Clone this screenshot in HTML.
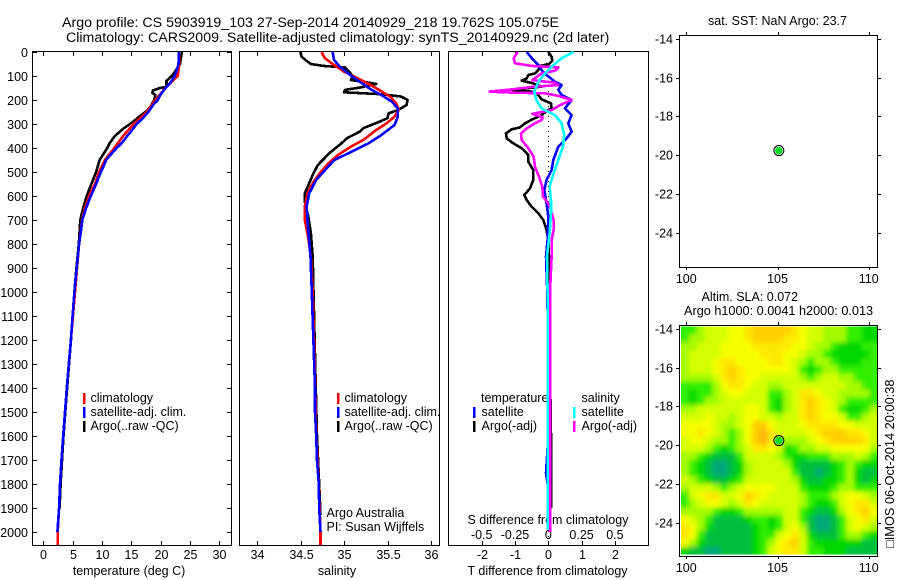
<!DOCTYPE html>
<html lang="en">
<head>
<meta charset="utf-8">
<title>Argo profile CS 5903919_103</title>
<style>
html,body{margin:0;padding:0;background:#fff;}
svg{display:block;font-family:"Liberation Sans",sans-serif;fill:#000;}
text{font-size:12.5px;}
.frame{fill:none;stroke:#000;stroke-width:1;shape-rendering:crispEdges;}
.tick{stroke:#000;stroke-width:1;shape-rendering:crispEdges;}
.line{fill:none;stroke-width:2.6;shape-rendering:crispEdges;stroke-linejoin:round;}
.key{stroke-width:2.5;shape-rendering:crispEdges;}
</style>
</head>
<body>
<svg id="chart" xmlns="http://www.w3.org/2000/svg" width="900" height="580" viewBox="0 0 900 580">
  <rect x="0" y="0" width="900" height="580" fill="#fff"/>
  <defs>
    <clipPath id="mapClip"><rect x="681" y="326.5" width="196.5" height="228"/></clipPath>
    <filter id="soft" x="-10%" y="-10%" width="120%" height="120%"><feGaussianBlur stdDeviation="2.3"/></filter>
  </defs>

  <text x="62" y="27" style="font-size:14.2px">Argo profile: CS 5903919_103 27-Sep-2014 20140929_218 19.762S 105.075E</text>
  <text x="66" y="42" style="font-size:14.2px">Climatology: CARS2009. Satellite-adjusted climatology: synTS_20140929.nc (2d later)</text>

  <g id="panelT">
    <rect class="frame" x="32.5" y="51.5" width="199" height="494"/>
    <text x="129" y="575" text-anchor="middle">temperature (deg C)</text>
    <line class="key" x1="84" x2="84" y1="393" y2="404" stroke="#f00"/>
    <line class="key" x1="84" x2="84" y1="407" y2="418" stroke="#00f"/>
    <line class="key" x1="84" x2="84" y1="421" y2="432" stroke="#000"/>
    <text x="90.5" y="402">climatology</text>
    <text x="90.5" y="416">satellite-adj. clim.</text>
    <text x="90.5" y="430">Argo(..raw -QC)</text>
  </g>

  <g id="panelS">
    <rect class="frame" x="239.5" y="51.5" width="200" height="494"/>
    <text x="337" y="575" text-anchor="middle">salinity</text>
    <line class="key" x1="338" x2="338" y1="393" y2="404" stroke="#f00"/>
    <line class="key" x1="338" x2="338" y1="407" y2="418" stroke="#00f"/>
    <line class="key" x1="338" x2="338" y1="421" y2="432" stroke="#000"/>
    <text x="344.5" y="402">climatology</text>
    <text x="344.5" y="416">satellite-adj. clim.</text>
    <text x="344.5" y="430">Argo(..raw -QC)</text>
    <text x="326.5" y="517">Argo Australia</text>
    <text x="326.5" y="531">PI: Susan Wijffels</text>
  </g>

  <g id="panelD">
    <rect class="frame" x="448.5" y="51.5" width="200" height="494"/>
    <text x="467.5" y="575">T difference from climatology</text>
    <text x="467.5" y="524">S difference from climatology</text>
    <text x="481" y="402">temperature</text>
    <text x="481.5" y="416">satellite</text>
    <text x="481.5" y="430">Argo(-adj)</text>
    <text x="581.5" y="402">salinity</text>
    <text x="581.5" y="416">satellite</text>
    <text x="581.5" y="430">Argo(-adj)</text>
  </g>

  <g id="mapTop">
    <text x="708" y="25" style="font-size:12.5px">sat. SST: NaN Argo: 23.7</text>
    <rect class="frame" x="679.5" y="35.5" width="198" height="232"/>
  </g>

  <g id="mapBottom">
    <text x="701.5" y="301" style="font-size:12.5px">Altim. SLA: 0.072</text>
    <text x="684" y="315" style="font-size:12.7px">Argo h1000: 0.0041 h2000: 0.013</text>
  </g>

  <text transform="translate(894 548) rotate(-90)" style="font-size:12.8px">□IMOS 06-Oct-2014 20:00:38</text>
</svg>

<script>
/* axis tick values */
const depthTicks = [0,100,200,300,400,500,600,700,800,900,1000,1100,1200,1300,1400,1500,1600,1700,1800,1900,2000];
const tempTicks = [0,5,10,15,20,25,30];
const salTicks = [34,34.5,35,35.5,36];
const tDiffTicks = [-2,-1,0,1,2];
const sDiffTicks = [-0.5,-0.25,0,0.25,0.5];
const lonTicks = [100,105,110];
const latTicks = [-14,-16,-18,-20,-22,-24];

/* temperature profiles */
const tempClimDepth = [0,50,100,150,200,250,300,350,400,450,500,550,600,650,700,800,1000,1200,1400,1500,1600,1700,1800,1900,2000,2054];
const tempClimValue = [23.1,23.2,22.9,20.8,19.1,17.6,15.4,13.6,12.1,10.5,9.5,8.8,7.8,7.1,6.6,6.1,5.4,4.7,4,3.7,3.4,3.1,2.85,2.7,2.45,2.45];
const tempSatDepth = [0,50,80,100,130,150,180,200,220,250,280,300,330,350,380,400,430,450,480,500,550,600,650,700,750,800,900,1000,1100,1200,1300,1400,1500,1600,1700,1800,1900,2000];
const tempSatValue = [23.1,23.05,22.7,22.4,21.6,20.85,19.9,19.5,18.75,17.9,16.8,15.9,15,14.3,13.35,12.5,11.4,10.7,10.2,9.8,9,8.1,7.3,6.65,6.4,6.1,5.7,5.3,5,4.7,4.35,4,3.7,3.4,3.1,2.85,2.7,2.4];
const tempArgoDepth = [0,50,80,100,120,145,150,160,170,180,200,230,250,270,285,300,320,350,380,400,450,500,550,600,650,700,800,900,1000,1200,1400,1600,1800,1900];
const tempArgoValue = [23.6,23.3,22.5,21.9,21,21,19.9,18.7,18.6,19.1,18.9,18.2,17.4,16.3,15.6,14.8,13.6,12.2,11.3,10.9,9.6,9,8.2,7.4,6.8,6.3,6.05,5.65,5.3,4.72,4.05,3.45,2.95,2.78];

/* salinity profiles */
const salClimDepth = [0,26,50,82,117,151,186,214,242,269,297,325,367,394,429,464,506,547,589,644,700,756,853,1000,1400,1600,1800,2000,2054];
const salClimValue = [34.74,34.78,34.87,35,35.2,35.37,35.53,35.6,35.63,35.58,35.49,35.37,35.22,35.08,34.93,34.82,34.72,34.64,34.58,34.55,34.55,34.58,34.62,34.64,34.67,34.68,34.71,34.73,34.73];
const salSatDepth = [0,33,61,96,124,158,179,207,235,269,304,346,381,422,450,485,533,589,644,728,853,1000,1400,1500,1600,1700,1800,1900,2000];
const salSatValue = [34.87,34.885,34.95,35.07,35.18,35.32,35.43,35.55,35.62,35.62,35.58,35.43,35.28,35.05,34.89,34.8,34.68,34.6,34.57,34.585,34.615,34.63,34.667,34.667,34.68,34.69,34.71,34.715,34.73];
const salArgoDepth = [0,19,36,50,58,64,78,100,117,124,133,147,158,168,176,186,200,221,242,256,276,290,318,332,360,381,422,471,505,547,589,624,686,756,853,1000,1400,1600,1800,1930];
const salArgoValue = [34.5,34.51,34.565,34.62,34.76,35.01,35.05,35.1,35.08,35.22,35.37,35.2,35.01,35,35.43,35.66,35.73,35.72,35.62,35.51,35.5,35.41,35.22,35.18,35.03,34.97,34.83,34.7,34.65,34.6,34.55,34.55,34.59,34.62,34.64,34.65,34.676,34.69,34.715,34.73];

/* difference profiles */
const tDiffArgoDepth = [0,19,36,50,58,75,89,96,110,119,131,144,158,165,179,197,214,235,246,263,281,297,314,322,339,360,381,401,429,457,492,533,568,596,617,644,672,700,742,783,853,1000,1200,1400,1600,1900];
const tDiffArgoValue = [0,0.1,0.12,0.02,-0.25,-0.3,-0.4,-0.6,-0.65,-0.8,-0.45,-0.2,-1.1,-0.5,-0.3,-0.2,0.08,0.1,-0.05,-0.2,-0.48,-0.7,-0.85,-1.1,-1.27,-1.25,-1.05,-0.8,-0.6,-0.6,-0.45,-0.45,-0.55,-0.72,-0.65,-0.5,-0.3,-0.15,-0.05,0,0.02,0.03,0.05,0.06,0.08,0.08];
const tDiffSatDepth = [0,33,54,75,96,124,138,158,179,200,235,263,297,332,360,394,450,492,533,575,631,686,783,853,1000,1200,1650,1754,1800,1960];
const tDiffSatValue = [-0.65,-0.45,-0.3,-0.2,-0.05,0.2,0.4,0.3,0.4,0.7,0.5,0.7,0.6,0.7,0.55,0.3,0.15,0.1,-0.05,-0.12,-0.05,0,-0.02,-0.07,-0.03,-0.01,-0.02,-0.07,-0.02,-0.01];
const sDiffArgoDepth = [0,26,47,58,64,78,89,117,128,138,144,156,165,169,172,183,200,221,242,258,272,283,297,318,339,367,401,436,478,519,561,603,631,658,700,742,783,853,1000,2000];
const sDiffArgoValue = [-0.23,-0.26,-0.25,-0.125,0.075,0.05,-0.05,-0.12,0.05,0.075,-0.1,-0.275,-0.44,-0.275,-0.025,0.075,0.175,0.09,0.025,-0.12,-0.04,-0.05,-0.1,-0.16,-0.205,-0.2,-0.15,-0.11,-0.1,-0.07,-0.045,-0.04,0,0.02,0.04,0.04,0.025,0.025,0.0125,0.0125];
const sDiffSatDepth = [0,26,54,89,124,165,200,235,263,297,346,394,450,506,561,617,672,756,853,1000,1990];
const sDiffSatValue = [0.19,0.1,0.04,-0.025,-0.075,-0.105,-0.09,-0.05,0.05,0.1,0.12,0.11,0.075,0.04,0.01,0.02,0.02,0.01,-0.01,-0.005,-0.005];

/* argo float position */
const floatLon = 105.075;
const floatLat = -19.762;

/* SLA map colour levels, one string per row from north to south */
const slaLevels = [
"3345556678888876554443322",
"3445556678888776554443322",
"4455566667777766544322233",
"4555566666777665443222223",
"4555677666677654344322233",
"4555678766666653234433333",
"4444578766555554345544333",
"3333467765544555555554433",
"3233456655533457765544443",
"3234455555532457876543333",
"4455555566532457876532234",
"5556554566554557876653345",
"6666544568865556777766555",
"6676543468975555678887765",
"5665443468975444567888875",
"5554323457765234455666664",
"4432111355554322333444543",
"4321001245555421111234322",
"4321001245555531101234211",
"5432112355555542112234212",
"4555434566665553222344333",
"3567755687655554333456654",
"3456654576555554322356775",
"4444322344444553211246786",
"6543111123323553100135675",
"7642111112323564100135654",
"7631111112335675211134432",
"6421111112346785322222211",
"2110011112356775332221111"
];
const slaColors = ["#00a878","#00bf3c","#00d800","#33ee00","#a4fb00","#d4ff00","#f6ff00","#ffe800","#ffd000","#ffb408"];
const gridLonStart = 99.71;
const gridLonStep = 0.431;
const gridLatStart = -13.86;
const gridLatStep = 0.407;

/* axis functions */
function yDepth(d){ return 52 + d * 0.24; }
function xTemp(t){ return 43.3 + t * 5.867; }
function xSal(s){ return 257 + (s - 34) * 87; }
function xTDiff(v){ return 548.3 + v * 33.3; }
function xSDiff(v){ return 548.3 + v * 133.2; }
function xLon(l){ return 686.3 + (l - 100) * 18.24; }
function yLatTop(l){ return 39 + (-14 - l) * 19.36; }
function yLatBottom(l){ return 329 + (-14 - l) * 19.36; }

const NS = 'http://www.w3.org/2000/svg';
function svgEl(parent, tag, attrs){
  const el = document.createElementNS(NS, tag);
  for (const k in attrs) el.setAttribute(k, attrs[k]);
  parent.appendChild(el);
  return el;
}
function fmt(v){ return String(v); }

function tickLine(parent, x1, y1, x2, y2, name){
  const el = svgEl(parent, 'line', {class:'tick', x1:x1, y1:y1, x2:x2, y2:y2});
  
  
  return el;
}
function tickText(parent, x, y, anchor, str, name){
  const el = svgEl(parent, 'text', {x:x, y:y, 'text-anchor':anchor});
  el.textContent = str;
  
  
  return el;
}
function profile(parent, depths, values, xf, color, name){
  const pts = depths.map(function(d, i){ return xf(values[i]).toFixed(1) + ',' + yDepth(d).toFixed(1); }).join(' ');
  const el = svgEl(parent, 'polyline', {class:'line', points:pts, stroke:color});
  
  
  return el;
}

const panelT = document.getElementById('panelT');
const panelS = document.getElementById('panelS');
const panelD = document.getElementById('panelD');
const mapTop = document.getElementById('mapTop');
const mapBottom = document.getElementById('mapBottom');

/* temperature panel */
depthTicks.forEach(function(d){
  const y = Math.round(yDepth(d)) + 0.5;
  tickLine(panelT, 33, y, 37, y, 'depth-tick-left-' + d);
  tickLine(panelT, 227, y, 231, y, 'depth-tick-right-' + d);
  tickText(panelT, 28, y + 4.5, 'end', fmt(d), 'depth-tick-label-' + d);
});
tempTicks.forEach(function(t){
  const x = Math.round(xTemp(t)) + 0.5;
  tickLine(panelT, x, 52, x, 56, 'temperature-tick-top-' + t);
  tickLine(panelT, x, 541, x, 545, 'temperature-tick-bottom-' + t);
  tickText(panelT, x, 559, 'middle', fmt(t), 'temperature-tick-label-' + t);
});
profile(panelT, tempArgoDepth, tempArgoValue, xTemp, '#000', 'temperature-argo-line');
profile(panelT, tempClimDepth, tempClimValue, xTemp, '#f00', 'temperature-climatology-line');
profile(panelT, tempSatDepth, tempSatValue, xTemp, '#00f', 'temperature-satellite-line');

/* salinity panel */
salTicks.forEach(function(s){
  const x = Math.round(xSal(s)) + 0.5;
  tickLine(panelS, x, 52, x, 56, 'salinity-tick-top-' + s);
  tickLine(panelS, x, 541, x, 545, 'salinity-tick-bottom-' + s);
  tickText(panelS, x, 559, 'middle', fmt(s), 'salinity-tick-label-' + s);
});
profile(panelS, salArgoDepth, salArgoValue, xSal, '#000', 'salinity-argo-line');
profile(panelS, salClimDepth, salClimValue, xSal, '#f00', 'salinity-climatology-line');
profile(panelS, salSatDepth, salSatValue, xSal, '#00f', 'salinity-satellite-line');

/* difference panel */
tDiffTicks.forEach(function(v){
  const x = Math.round(xTDiff(v)) + 0.5;
  tickLine(panelD, x, 52, x, 56, 'd-tick-top-' + v);
  tickLine(panelD, x, 541, x, 545, 'd-tick-bottom-' + v);
  tickText(panelD, x, 559, 'middle', fmt(v), 't-difference-tick-label-' + v);
});
sDiffTicks.forEach(function(v){
  tickText(panelD, xSDiff(v), 539, 'middle', fmt(v), 's-difference-tick-label-' + v);
});
const zeroLine = svgEl(panelD, 'line', {x1:548.5, x2:548.5, y1:yDepth(100), y2:yDepth(2054), stroke:'#000', 'stroke-width':1, 'stroke-dasharray':'1 4'});


profile(panelD, tDiffArgoDepth, tDiffArgoValue, xTDiff, '#000', 'temperature-difference-argo-line');
profile(panelD, tDiffSatDepth, tDiffSatValue, xTDiff, '#00f', 'temperature-difference-satellite-line');
profile(panelD, sDiffArgoDepth, sDiffArgoValue, xSDiff, '#f0f', 'salinity-difference-argo-line');
profile(panelD, sDiffSatDepth, sDiffSatValue, xSDiff, '#0ff', 'salinity-difference-satellite-line');

const keyDefs = [[474,407,418,'#00f','key-temperature-satellite'],[474,421,432,'#000','key-temperature-argo'],[574,407,418,'#0ff','key-salinity-satellite'],[574,421,432,'#f0f','key-salinity-argo']];
keyDefs.forEach(function(k){
  const el = svgEl(panelD, 'line', {class:'key', x1:k[0], x2:k[0], y1:k[1], y2:k[2], stroke:k[3]});
  
  
});

/* SLA heatmap */
const heatClip = svgEl(mapBottom, 'g', {'clip-path':'url(#mapClip)'});


const heatGroup = svgEl(heatClip, 'g', {filter:'url(#soft)'});


const nRows = slaLevels.length;
slaLevels.forEach(function(row, r){
  const nCols = row.length;
  for (let c = 0; c < nCols; c++){
    let x0 = xLon(gridLonStart + c * gridLonStep);
    let x1 = xLon(gridLonStart + (c + 1) * gridLonStep) + 0.4;
    let y0 = yLatBottom(gridLatStart - r * gridLatStep);
    let y1 = yLatBottom(gridLatStart - (r + 1) * gridLatStep) + 0.4;
    if (c === 0) x0 -= 10;
    if (c === nCols - 1) x1 += 10;
    if (r === 0) y0 -= 10;
    if (r === nRows - 1) y1 += 10;
    const cell = svgEl(heatGroup, 'rect', {x:x0.toFixed(2), y:y0.toFixed(2), width:(x1 - x0).toFixed(2), height:(y1 - y0).toFixed(2), fill:slaColors[Number(row[c])]});
    
    
  }
});
const slaFrame = svgEl(mapBottom, 'rect', {class:'frame', x:679.5, y:325.5, width:198, height:231});



/* map axes */
function mapAxes(parent, yLat, top, bottom, prefix){
  lonTicks.forEach(function(l){
    const x = Math.round(xLon(l)) + 0.5;
    tickLine(parent, x, top - 3, x, top, prefix + '-lon-tick-top-' + l);
    tickLine(parent, x, bottom, x, bottom + 3, prefix + '-lon-tick-bottom-' + l);
    tickText(parent, xLon(l), bottom + 16, 'middle', fmt(l), prefix + '-lon-label-' + l);
  });
  latTicks.forEach(function(l){
    const y = Math.round(yLat(l)) + 0.5;
    tickLine(parent, 676, y, 679, y, prefix + '-lat-tick-left-' + l);
    tickLine(parent, 878, y, 881, y, prefix + '-lat-tick-right-' + l);
    tickText(parent, 673, y + 4, 'end', fmt(l), prefix + '-lat-label-' + l);
  });
}
mapAxes(mapTop, yLatTop, 35, 267, 'sst-map');
mapAxes(mapBottom, yLatBottom, 325, 556, 'sla-map');

/* float markers */
function marker(parent, yLat, prefix){
  const cx = xLon(floatLon);
  const cy = yLat(floatLat);
  const ring = svgEl(parent, 'circle', {cx:cx, cy:cy, r:5, fill:'none', stroke:'#000', 'stroke-width':1});
  
  
  const dot = svgEl(parent, 'circle', {cx:cx, cy:cy, r:3.8, fill:'#00dc28'});
  
  
}
marker(mapTop, yLatTop, 'sst-map');
marker(mapBottom, yLatBottom, 'sla-map');
</script>
</body>
</html>
